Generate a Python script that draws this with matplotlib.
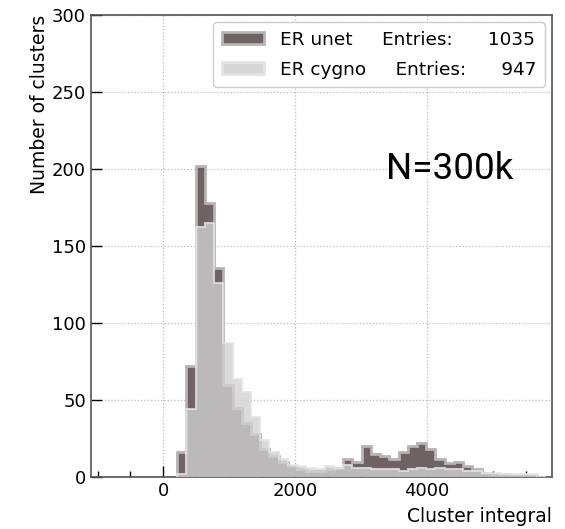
import numpy as np
import matplotlib
matplotlib.use("Agg")
import matplotlib.pyplot as plt
from matplotlib.patches import Patch
from matplotlib.ticker import MultipleLocator

# bin edges (cluster integral)
bin_start = 210
bin_width = 140
n_bins = 40
edges = bin_start + bin_width * np.arange(n_bins + 1)

unet_counts = [16, 72, 202, 178, 136, 60, 45, 35, 28, 18,
               14, 10, 7, 5, 4, 4, 5, 6, 12, 10,
               20, 15, 14, 12, 16, 20, 22, 18, 12, 9,
               10, 7, 5, 3, 2, 2, 1, 1, 1, 0]
cygno_counts = [2, 44, 162, 165, 126, 87, 64, 55, 39, 24,
                16, 12, 8, 7, 6, 5, 7, 6, 8, 6,
                6, 5, 5, 5, 4, 5, 6, 5, 6, 5,
                5, 4, 4, 3, 3, 2, 2, 2, 2, 0]
labels = ["ER unet", "ER cygno"]
entries = [1035, 947]

x_ticks = [0, 2000, 4000]
y_ticks = [0, 50, 100, 150, 200, 250, 300]

dark = "#6e6264"
dark_edge = "#b8b2b3"
light = "#d2d2d2"
light_edge = "#e4e4e4"

fig = plt.figure(figsize=(5.65, 5.29), dpi=100)
ax = fig.add_axes([0.161, 0.098, 0.816, 0.874])

ax.stairs(unet_counts, edges, fill=True, facecolor=dark, zorder=2)
ax.stairs(unet_counts, edges, fill=False, color=dark_edge, linewidth=2, zorder=2)
ax.stairs(cygno_counts, edges, fill=True, facecolor=light, alpha=0.78, zorder=3)
ax.stairs(cygno_counts, edges, fill=False, color=light_edge, linewidth=1.5,
          alpha=0.8, zorder=3)

ax.set_xlim(-1100, 5900)
ax.set_ylim(0, 300)
ax.set_xticks(x_ticks)
ax.set_yticks(y_ticks)
ax.xaxis.set_minor_locator(MultipleLocator(500))
ax.tick_params(which="both", direction="in", top=False, right=False, labelsize=13,
               colors="black")
ax.tick_params(which="major", length=8, width=1)
ax.tick_params(which="minor", length=4, width=1)
for s in ax.spines.values():
    s.set_color("#555555")
    s.set_linewidth(1.2)

ax.grid(True, which="major", linestyle=":", color="#bbbbbb", linewidth=0.9, zorder=0)
ax.set_axisbelow(True)

ax.set_ylabel("Number of clusters", fontsize=13.5, loc="top", labelpad=2)
ax.set_xlabel("Cluster integral", fontsize=13.5, loc="right", labelpad=5)

handles = [Patch(facecolor=dark, edgecolor=dark_edge, linewidth=2),
           Patch(facecolor="#d6d6d6", edgecolor=light_edge, linewidth=2)]
leg_labels = [labels[0] + " " * 5 + "Entries:" + " " * 6 + str(entries[0]),
              labels[1] + " " * 5 + "Entries:" + " " * 6 + str(entries[1])]
leg = ax.legend(handles, leg_labels, loc="upper right", fontsize=13.3,
                handlelength=2.3, handleheight=0.55, handletextpad=0.85,
                frameon=True, fancybox=True, borderaxespad=0.4,
                labelspacing=0.65, borderpad=0.45)
leg.get_frame().set_edgecolor("#cccccc")
leg.get_frame().set_alpha(1)

ax.text(0.64, 0.645, "N=300k", transform=ax.transAxes, fontsize=26.5,
        family="Roboto", ha="left", va="baseline")

fig.savefig("out.png", dpi=100)
